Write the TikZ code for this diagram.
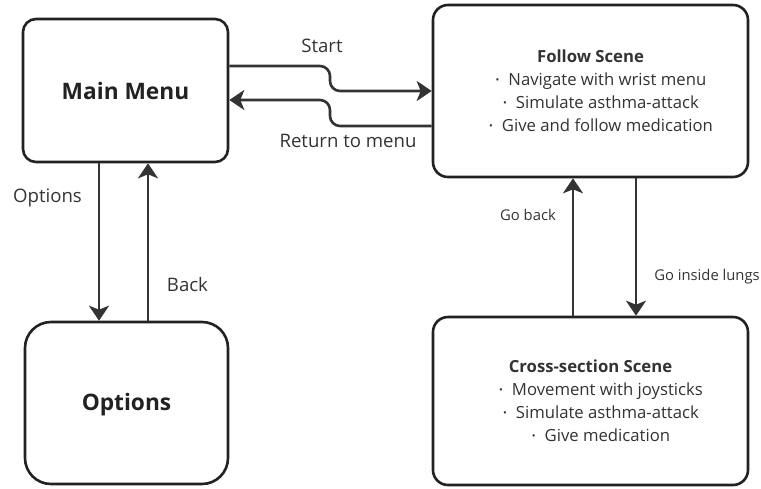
\documentclass[tikz,border=0pt]{standalone}
\usepackage{fontspec}
\setmainfont{Open Sans}
\usetikzlibrary{arrows.meta}
\definecolor{ln}{HTML}{333333}
\definecolor{bd}{HTML}{222222}
\newcommand{\bul}{\raisebox{0.14em}{\scalebox{0.6}{\textbullet}}\hspace{9pt}}
\begin{document}
\begin{tikzpicture}[x=1pt,y=-1pt,
  box/.style={draw=bd, line width=2.6pt, fill=white, inner sep=0pt},
  conn/.style={draw=ln, line width=2.6pt, -{Stealth[length=15pt,width=20pt,inset=4pt]}},
  lbl/.style={text=ln, font=\fontsize{18.6}{22}\selectfont, inner sep=0pt},
  slbl/.style={text=ln, font=\fontsize{14.8}{17}\selectfont, inner sep=0pt},
  big/.style={text=bd, font=\fontsize{22.7}{27}\selectfont\bfseries},
  list/.style={text=ln, align=center, font=\fontsize{16.7}{23}\selectfont}]
\useasboundingbox (0,0) rectangle (761,488);
\node[box, rounded corners=13pt, minimum width=205pt, minimum height=143pt, big] (main) at (125.5,90.5) {Main Menu};
\node[box, rounded corners=26pt, minimum width=203pt, minimum height=162pt, big] (opts) at (126.5,403) {};
\node[big, inner sep=0pt] (optstxt) at (126.5,405) {Options};
\node[box, rounded corners=15pt, minimum width=315pt, minimum height=172pt, list] (follow) at (590.5,91)
  {\textbf{Follow Scene}\\
   \hspace*{21pt}\bul Navigate with wrist menu\\
   \hspace*{21pt}\bul Simulate asthma-attack\\
   \hspace*{21pt}\bul Give and follow medication};
\node[box, rounded corners=15pt, minimum width=315pt, minimum height=168pt, list] (cross) at (590.5,401)
  {\textbf{Cross-section Scene}\\
   \hspace*{21pt}\bul Movement with joysticks\\
   \hspace*{21pt}\bul Simulate asthma-attack\\
   \hspace*{21pt}\bul Give medication};
% top connectors
\draw[conn, rounded corners=10pt] (main.east |- 0,66) -- (330,66) -- (330,91) -- (follow.west |- 0,91);
\draw[conn, rounded corners=10pt] (follow.west |- 0,126) -- (330,126) -- (330,100) -- (main.east |- 0,100);
% left connectors
\draw[conn] (main.south -| 99,0) -- (opts.north -| 99,0);
\draw[conn] (opts.north -| 148,0) -- (main.south -| 148,0);
% right connectors
\draw[conn] (cross.north -| 573,0) -- (follow.south -| 573,0);
\draw[conn] (follow.south -| 636,0) -- (cross.north -| 636,0);
% labels
\node[lbl] (lstart) at (322,46) {Start};
\node[lbl] (lret) at (348,141) {Return to menu};
\node[lbl] (lopt) at (47.5,198) {Options};
\node[lbl] (lback) at (187.5,285) {Back};
\node[slbl] (lgob) at (528,215) {Go back};
\node[slbl] (lgoin) at (707,277) {Go inside lungs};
\end{tikzpicture}
\end{document}
